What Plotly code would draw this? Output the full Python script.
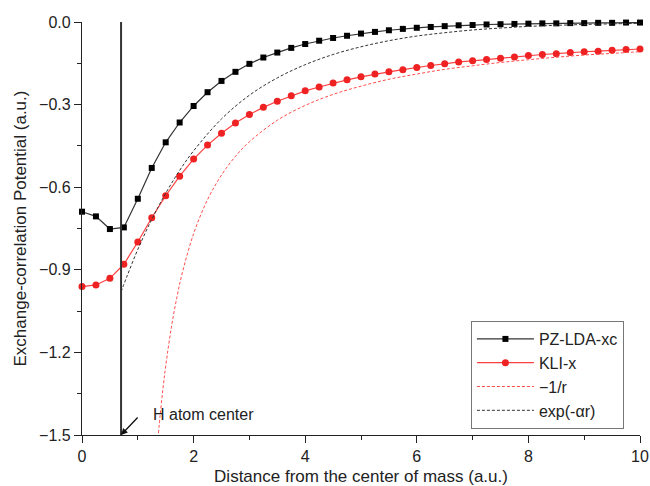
import plotly.graph_objects as go

# ---- data ----
r_grid = [0, 0.25, 0.5, 0.75, 1.0, 1.25, 1.5, 1.75, 2.0, 2.25, 2.5, 2.75, 3.0, 3.25, 3.5, 3.75,
          4.0, 4.25, 4.5, 4.75, 5.0, 5.25, 5.5, 5.75, 6.0, 6.25, 6.5, 6.75, 7.0, 7.25, 7.5, 7.75,
          8.0, 8.25, 8.5, 8.75, 9.0, 9.25, 9.5, 9.75, 10.0]

pz_lda_xc = [-0.689, -0.706, -0.752, -0.746, -0.642, -0.530, -0.437, -0.365, -0.305, -0.255,
             -0.214, -0.181, -0.152, -0.129, -0.111, -0.094, -0.080, -0.068, -0.058, -0.050,
             -0.042, -0.036, -0.030, -0.025, -0.021, -0.018, -0.015, -0.012, -0.011, -0.009,
             -0.008, -0.007, -0.006, -0.005, -0.005, -0.004, -0.004, -0.003, -0.003, -0.002, -0.002]

kli_x = [-0.961, -0.955, -0.931, -0.880, -0.799, -0.711, -0.631, -0.560, -0.498, -0.447,
         -0.404, -0.367, -0.336, -0.310, -0.288, -0.268, -0.250, -0.236, -0.222, -0.210,
         -0.199, -0.189, -0.181, -0.173, -0.165, -0.158, -0.152, -0.145, -0.141, -0.136,
         -0.132, -0.127, -0.122, -0.118, -0.115, -0.111, -0.108, -0.106, -0.103, -0.100, -0.098]

inv_r_x = [1.37, 1.4, 1.45, 1.5, 1.6, 1.7, 1.8, 2.0, 2.25, 2.5, 2.75, 3.0, 3.5, 4.0, 4.5,
           5.0, 5.5, 6.0, 6.5, 7.0, 7.5, 8.0, 8.5, 9.0, 9.5, 10.0]
inv_r_y = [-1.493, -1.429, -1.333, -1.25, -1.111, -1.0, -0.909, -0.769, -0.645, -0.556, -0.488,
           -0.435, -0.357, -0.303, -0.263, -0.233, -0.208, -0.189, -0.172, -0.159, -0.147,
           -0.137, -0.128, -0.120, -0.114, -0.108]

exp_x = [0.7, 0.8, 1.0, 1.25, 1.5, 1.75, 2.0, 2.5, 3.0, 3.5, 4.0, 4.5, 5.0, 5.5, 6.0, 6.5,
         7.0, 7.5, 8.0, 9.0, 10.0]
exp_y = [-0.98, -0.927, -0.826, -0.717, -0.622, -0.539, -0.468, -0.352, -0.266, -0.203, -0.155,
         -0.118, -0.090, -0.068, -0.051, -0.039, -0.029, -0.022, -0.016, -0.009, -0.005]

h_center = 0.7
series_names = ["PZ-LDA-xc", "KLI-x", "\u22121/r", "exp(-\u03b1r)"]
x_ticks = [0, 2, 4, 6, 8, 10]
y_ticks = [0.0, -0.3, -0.6, -0.9, -1.2, -1.5]

FONT = "Liberation Sans, Arial, sans-serif"
TXT = "#222222"

fig = go.Figure()
fig.add_trace(go.Scatter(
    x=r_grid, y=pz_lda_xc, name=series_names[0], mode="lines+markers",
    line=dict(color="#333333", width=1.2),
    marker=dict(symbol="square", size=6, color="#000000"),
    cliponaxis=False))
fig.add_trace(go.Scatter(
    x=r_grid, y=kli_x, name=series_names[1], mode="lines+markers",
    line=dict(color="#ff4040", width=1.2),
    marker=dict(symbol="circle", size=7, color="#ee2222"),
    cliponaxis=False))
fig.add_trace(go.Scatter(
    x=inv_r_x, y=inv_r_y, name=series_names[2], mode="lines",
    line=dict(color="#ff4d4d", width=1, dash="3px,2px", shape="spline")))
fig.add_trace(go.Scatter(
    x=exp_x, y=exp_y, name=series_names[3], mode="lines",
    line=dict(color="#333333", width=1, dash="3px,2px", shape="spline")))

fig.add_shape(type="line", x0=h_center, x1=h_center, y0=-1.5, y1=0.0,
              xref="x", yref="y", line=dict(color="#333333", width=2))

fig.add_annotation(x=h_center, y=-1.5, xref="x", yref="y", text="",
                   showarrow=True, ax=18, ay=-19, arrowhead=2, arrowsize=1,
                   arrowwidth=1.3, arrowcolor="#111111")
fig.add_annotation(x=h_center, y=-1.5, xref="x", yref="y", text="H atom center",
                   showarrow=False, xshift=82, yshift=21,
                   font=dict(family=FONT, size=16, color=TXT))

fig.update_layout(
    width=650, height=486,
    margin=dict(l=82, r=10, t=22, b=51, autoexpand=False),
    paper_bgcolor="white", plot_bgcolor="white",
    font=dict(family=FONT, size=16, color=TXT),
    showlegend=True,
    legend=dict(x=0.697, y=0.276, xanchor="left", yanchor="top",
                bordercolor="#777777", borderwidth=1, bgcolor="white",
                font=dict(family=FONT, size=16, color=TXT),
                itemwidth=57, tracegroupgap=0),
)
fig.update_xaxes(
    range=[0, 10], tickvals=x_ticks, showgrid=False, zeroline=False, automargin=False,
    showline=True, linecolor="#222222", linewidth=1.3,
    ticks="outside", ticklen=7, tickwidth=1.3, tickcolor="#222222",
    minor=dict(dtick=1, ticks="outside", ticklen=4, tickwidth=1.3, tickcolor="#222222", showgrid=False),
    tickfont=dict(family=FONT, size=16, color=TXT),
    title=dict(text="Distance from the center of mass (a.u.)", standoff=9,
               font=dict(family=FONT, size=17, color=TXT)))
fig.update_yaxes(
    range=[-1.5, 0], tickvals=y_ticks, tickformat=".1f", showgrid=False, zeroline=False,
    automargin=False,
    showline=True, linecolor="#222222", linewidth=1.3,
    ticks="outside", ticklen=7, tickwidth=1.3, tickcolor="#222222",
    minor=dict(dtick=0.15, tick0=0, ticks="outside", ticklen=4, tickwidth=1.3, tickcolor="#222222", showgrid=False),
    tickfont=dict(family=FONT, size=16, color=TXT),
    title=dict(text="Exchange-correlation Potential (a.u.)", standoff=8,
               font=dict(family=FONT, size=17, color=TXT)))

fig.write_html("out.html", config={"displayModeBar": False},
               post_script="document.body.style.margin='0';document.body.style.overflow='hidden';")
